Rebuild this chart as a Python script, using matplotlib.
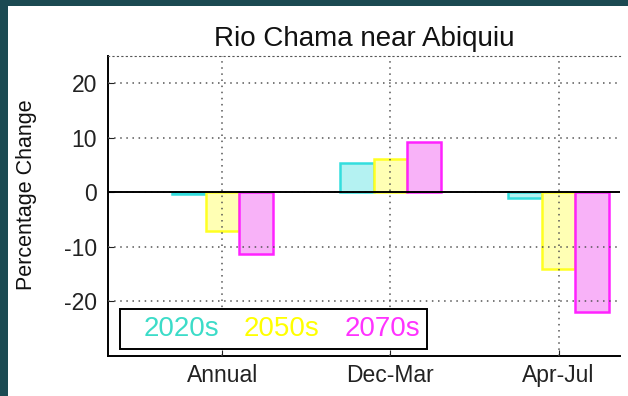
import matplotlib
matplotlib.use("Agg")
import matplotlib.pyplot as plt
from matplotlib.patches import Rectangle
import numpy as np

# =======================
# Datos
# =======================
periodos = ["Annual", "Dec-Mar", "Apr-Jul"]
series = ["2020s", "2050s", "2070s"]
v2020 = [-0.3, 5.3, -1.1]
v2050 = [-7.2, 6.0, -14.2]
v2070 = [-11.3, 9.2, -22.0]

bordes = ["#33dede", "#ffff22", "#ff22ff"]
rellenos = ["#b4f2f2", "#ffffb4", "#f8b2f8"]
texto_leyenda = ["#3cdcc8", "#ffff00", "#ff33ff"]

plt.rcParams["font.family"] = ["Liberation Sans", "DejaVu Sans"]
plt.rcParams["axes.unicode_minus"] = False

# =======================
# Figura
# =======================
fig = plt.figure(figsize=(6.28, 3.96), dpi=100)
fig.patch.set_facecolor("#1b4a52")
fig.patches.append(Rectangle((8 / 628, 0), 1, (396 - 6) / 396,
                             transform=fig.transFigure, facecolor="white",
                             edgecolor="none", zorder=-10))

ax = fig.add_axes([108 / 628, 1 - 355.5 / 396, (620 - 108) / 628, (355.5 - 56) / 396])
ax.set_facecolor("white")

x = np.arange(1, len(periodos) + 1)
ancho = 0.2
for i, vals in enumerate([v2020, v2050, v2070]):
    ax.bar(x + (i - 1) * ancho, vals, ancho, facecolor=rellenos[i],
           edgecolor=bordes[i], linewidth=1.8, zorder=1)

ax.axhline(0, color="black", linewidth=1.4, zorder=4)

ax.set_xlim(0.32, 3.365)
ax.set_ylim(-30, 25)
ax.set_xticks(x)
ax.set_xticklabels(periodos)
ax.set_yticks([-20, -10, 0, 10, 20])
ax.tick_params(direction="in", labelsize=16.5, colors="#222222", length=4)
ax.tick_params(axis="y", pad=8)
ax.tick_params(axis="x", pad=6)

ax.grid(True, linestyle=(0, (1, 3)), color="#555555", linewidth=1.1, zorder=3)
ax.set_axisbelow(False)

ax.spines["right"].set_visible(False)
ax.spines["top"].set_linestyle((0, (1, 3)))
ax.spines["top"].set_color("#555555")
ax.spines["left"].set_linewidth(1.4)
ax.spines["bottom"].set_linewidth(1.4)

ax.set_title("Rio Chama near Abiquiu", fontsize=20, pad=7, color="#111111")
ax.set_ylabel("Percentage Change", fontsize=15.5, color="#111111")
ax.yaxis.set_label_coords(-0.139, 0.536)

# Leyenda solo con texto coloreado
manijas = [Rectangle((0, 0), 1, 1, visible=False) for _ in series]
ley = ax.legend(manijas, series, ncol=3, loc="lower left",
                bbox_to_anchor=(0.023, 0.022), borderaxespad=0,
                fontsize=20, handlelength=0.4, handletextpad=0.2,
                columnspacing=0.3, borderpad=0.25, fancybox=False,
                framealpha=1, edgecolor="black", labelcolor=texto_leyenda)
ley.get_frame().set_linewidth(1.4)
ley.set_zorder(5)

fig.savefig("out.png", dpi=100, facecolor=fig.get_facecolor())
